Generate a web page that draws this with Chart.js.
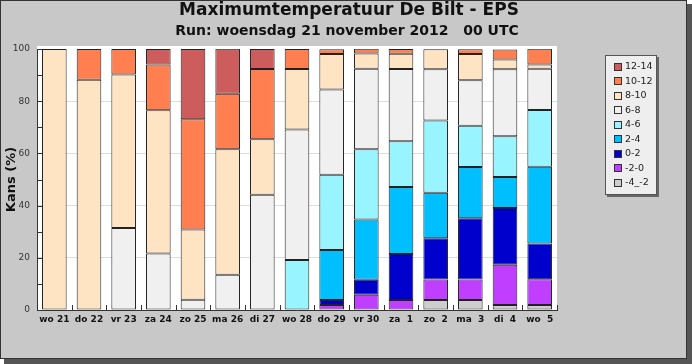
<!DOCTYPE html>
<html>
<head>
<meta charset="utf-8">
<script src="https://cdn.jsdelivr.net/npm/chart.js@4/dist/chart.umd.min.js"></script>
<style>
  html, body { margin: 0; padding: 0; background: #ffffff; }
  #wrap { width: 692px; height: 364px; }
</style>
</head>
<body>
<div id="wrap"><canvas id="grafiek" width="692" height="364"></canvas></div>
<script>
// ---------------- DATA ----------------
const dagen = ["wo 21", "do 22", "vr 23", "za 24", "zo 25", "ma 26", "di 27", "wo 28",
               "do 29", "vr 30", "za  1", "zo  2", "ma  3", "di  4", "wo  5"];

// kans (%) per temperatuurklasse, van onder naar boven gestapeld
const klasseMin4Min2 = [0, 0, 0, 0, 0, 0, 0, 0, 0, 0, 0, 3.8, 3.8, 1.9, 1.9];
const klasseMin2Nul  = [0, 0, 0, 0, 0, 0, 0, 0, 1.9, 5.8, 3.8, 7.9, 7.9, 15.4, 9.9];
const klasse0_2      = [0, 0, 0, 0, 0, 0, 0, 0, 1.9, 5.8, 17.7, 15.8, 23.5, 21.8, 13.7];
const klasse2_4      = [0, 0, 0, 0, 0, 0, 0, 0, 19.2, 23.1, 25.6, 17.4, 19.6, 11.9, 29.4];
const klasse4_6      = [0, 0, 0, 0, 0, 0, 0, 19.2, 28.8, 26.9, 17.6, 27.7, 15.8, 15.6, 21.7];
const klasse6_8      = [0, 0, 31.4, 21.6, 3.9, 13.5, 44.2, 50, 32.7, 30.8, 27.6, 19.6, 17.4, 25.6, 15.8];
const klasse8_10     = [100, 88.2, 58.8, 54.9, 26.9, 48.1, 21.2, 23.1, 13.6, 5.9, 5.9, 7.7, 10.1, 3.8, 1.7];
const klasse10_12    = [0, 11.8, 9.8, 17.6, 42.3, 21.3, 26.9, 7.7, 1.8, 1.8, 1.8, 0, 1.8, 3.8, 6.0];
const klasse12_14    = [0, 0, 0, 5.9, 26.9, 17.2, 7.7, 0, 0, 0, 0, 0, 0, 0, 0];

const klasseLabels = ["-4_-2", "-2-0", "0-2", "2-4", "4-6", "6-8", "8-10", "10-12", "12-14"];
const yTicks = [0, 20, 40, 60, 80, 100];

const kleuren = ["#cdcdcd", "#bf3eff", "#0000cd", "#00bfff", "#98f5ff",
                 "#f0f0f0", "#ffe4c4", "#ff7f50", "#cd5c5c"];

const reeksen = [klasseMin4Min2, klasseMin2Nul, klasse0_2, klasse2_4, klasse4_6,
                 klasse6_8, klasse8_10, klasse10_12, klasse12_14];

const titel = "Maximumtemperatuur De Bilt - EPS";
const ondertitel = "Run: woensdag 21 november 2012   00 UTC";

const FONT = "'DejaVu Sans', Verdana, sans-serif";

// ---------------- ACHTERGROND / KADER / LEGENDA ----------------
const kader = {
  id: "kader",
  beforeDraw(chart) {
    const ctx = chart.ctx;
    const a = chart.chartArea;
    ctx.save();
    ctx.fillStyle = "#ffffff";
    ctx.fillRect(0, 0, chart.width, chart.height);
    ctx.fillStyle = "#555555";
    ctx.fillRect(4, 4, 688, 360);
    ctx.fillStyle = "#c8c8c8";
    ctx.fillRect(0, 0, 687, 359);
    ctx.strokeStyle = "#333333";
    ctx.lineWidth = 1;
    ctx.strokeRect(0.5, 0.5, 686, 358);

    // plot vlak
    ctx.fillStyle = "#ffffff";
    ctx.fillRect(a.left, a.top - 3, a.right - a.left, a.bottom - a.top + 3);

    // titels
    ctx.fillStyle = "#111111";
    ctx.textAlign = "center";
    ctx.textBaseline = "middle";
    ctx.font = "bold 17px " + FONT;
    ctx.fillText(titel, 349, 11);
    ctx.font = "bold 14px " + FONT;
    ctx.fillText(ondertitel, 347, 31);
    ctx.restore();
  },
  afterDatasetsDraw(chart) {
    const ctx = chart.ctx;
    const a = chart.chartArea;
    const y = chart.scales.y;
    ctx.save();
    ctx.strokeStyle = "#333333";
    ctx.lineWidth = 1;
    ctx.beginPath();
    for (let v = 0; v <= 100; v += 10) {
      const py = Math.round(y.getPixelForValue(v)) + 0.5;
      ctx.moveTo(a.left, py);
      ctx.lineTo(a.left + 5, py);
    }
    const stap = (a.right - a.left) / dagen.length;
    for (let i = 1; i <= dagen.length; i++) {
      const px = Math.round(a.left + i * stap) + 0.5;
      ctx.moveTo(px, a.bottom);
      ctx.lineTo(px, a.bottom - 5);
    }
    ctx.stroke();
    ctx.restore();
  },
  afterDraw(chart) {
    const ctx = chart.ctx;
    const bx = 605, by = 55, bw = 52, bh = 140;
    ctx.save();
    ctx.fillStyle = "#666666";
    ctx.fillRect(bx + 2, by + 2, bw, bh);
    ctx.fillStyle = "#eeeeee";
    ctx.fillRect(bx, by, bw, bh);
    ctx.strokeStyle = "#555555";
    ctx.lineWidth = 1;
    ctx.strokeRect(bx + 0.5, by + 0.5, bw - 1, bh - 1);

    ctx.font = "9.5px " + FONT;
    ctx.textBaseline = "middle";
    const ds = chart.data.datasets.slice().reverse();
    ds.forEach((d, i) => {
      const cy = 66.5 + i * 14.55;
      const top = Math.round(cy - 4);
      ctx.fillStyle = d.backgroundColor;
      ctx.fillRect(614, top, 8, 8);
      ctx.strokeStyle = "#333333";
      ctx.strokeRect(614.5, top + 0.5, 7, 7);
      ctx.fillStyle = "#222222";
      ctx.fillText(d.label, 625, cy);
    });
    ctx.restore();
  }
};

// ---------------- GRAFIEK ----------------
new Chart(
  document.getElementById("grafiek"),
  {
    type: "bar",

    data: {
      labels: dagen,
      datasets: reeksen.map((r, i) => ({
        label: klasseLabels[i],
        data: r,
        backgroundColor: kleuren[i],
        borderColor: "#222222",
        borderWidth: 1,
        borderSkipped: false,
        barPercentage: 0.71,
        categoryPercentage: 1
      }))
    },

    plugins: [kader],

    options: {
      responsive: false,
      animation: false,
      layout: {
        padding: { left: 0, right: 135, top: 49, bottom: 0 }
      },
      plugins: {
        legend: { display: false },
        tooltip: { enabled: false }
      },
      scales: {
        x: {
          stacked: true,
          grid: { display: false, drawTicks: false },
          border: { display: true, color: "#333333", width: 1 },
          ticks: {
            color: "#111111",
            padding: 4,
            maxRotation: 0,
            autoSkip: false,
            font: { family: FONT, size: 9, weight: "bold" }
          },
          afterFit: s => { s.height = 54; }
        },
        y: {
          stacked: true,
          min: 0,
          max: 100,
          grid: {
            drawTicks: false,
            color: c => (c.tick && yTicks.includes(c.tick.value) && c.tick.value > 0 && c.tick.value < 100)
              ? "#dddddd" : "rgba(0,0,0,0)"
          },
          border: { display: true, color: "#333333", width: 1 },
          ticks: {
            stepSize: 10,
            padding: 7,
            color: "#333333",
            font: { family: FONT, size: 9 },
            callback: v => yTicks.includes(v) ? v : ""
          },
          title: {
            display: true,
            text: "Kans (%)",
            color: "#111111",
            font: { family: FONT, size: 13, weight: "bold" },
            padding: { top: 4, bottom: 0 }
          },
          afterFit: s => { s.width = 37; }
        }
      }
    }
  }
);
</script>
</body>
</html>
